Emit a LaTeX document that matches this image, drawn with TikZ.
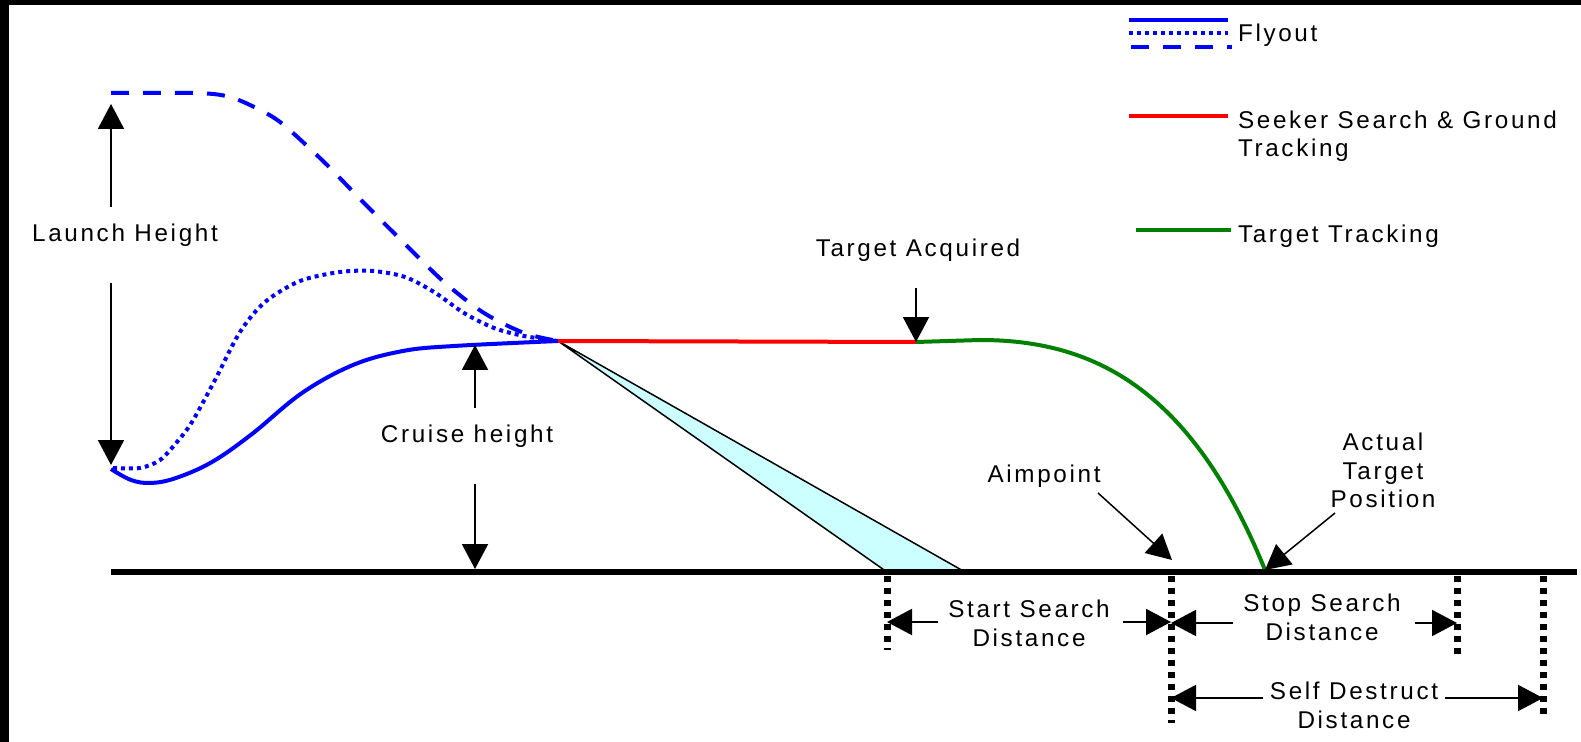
\documentclass[tikz,border=0pt]{standalone}
\usepackage{fontspec}
\setmainfont{Liberation Sans}[LetterSpace=11]
\usetikzlibrary{arrows.meta}
\definecolor{seekcyan}{RGB}{204,255,255}
\definecolor{trackgreen}{RGB}{0,128,0}

\begin{document}
\begin{tikzpicture}[x=0.02cm,y=-0.02cm,line width=0.04cm,
    font=\fontsize{13.8}{16.4}\selectfont,
    lbl/.style={inner sep=0pt,align=center,anchor=base},
    leg/.style={inner sep=0pt,align=left,anchor=base west},
    arr/.style={-{Triangle[length=0.5cm,width=0.52cm]}},
    fly/.style={blue,line width=0.08cm},
    flydot/.style={fly,dash pattern=on 0.08cm off 0.08cm},
    flydash/.style={fly,dash pattern=on 0.36cm off 0.28cm},
    marker/.style={line width=0.14cm,dash pattern=on 0.12cm off 0.12cm}]
    \useasboundingbox (0,0) rectangle (1581,742);
    \fill (0,0) rectangle (1581,5.5);
    \fill (0,0) rectangle (8.5,742);
    \coordinate (L) at (111,469);
    \coordinate (C) at (558,341);
    \coordinate (TA) at (916,342);
    \coordinate (TP) at (1265,570);
    \coordinate (SS) at (887,572);
    \coordinate (SE) at (965,572);
    \coordinate (AP) at (1171,572);
    \coordinate (SP) at (1457,572);
    \coordinate (SD) at (1543,572);
    \fill [seekcyan] (C) -- (SS) -- (SE) -- cycle;
    \draw [line width=0.03cm] (SS) -- (C) -- (SE);
    \draw [fly] plot [smooth,tension=0.6] coordinates {(L) (131,480) (151,483) (176,478) (212,462) (252,434) (302,393) (353,365) (403,351) (454,346) (C)};
    \draw [flydot] plot [smooth,tension=0.5] coordinates {(113,468) (140,468) (160,460) (177,442) (192,422) (215,380) (240,332) (265,302) (300,281) (340,272) (373,271) (405,277) (434,292) (464,313) (494,328) (524,336) (C)};
    \draw [flydash] plot [smooth,tension=0.5] coordinates {(111,93) (195,93) (226,96) (250,105) (280,122) (323,161) (363,202) (403,242) (444,282) (484,313) (524,333) (C)};
    \draw [red,line width=0.08cm] (C) -- (TA);
    \draw [trackgreen,line width=0.08cm] (TA) -- (980,340) .. controls (1090,340) and (1190,385) .. (TP);
    \draw [line width=0.12cm] (111,572) -- (1577,572);
    \draw [marker] (SS) ++(0,4) -- (887,650);
    \draw [marker] (AP) ++(0,4) -- (1171,723);
    \draw [marker] (SP) ++(0,4) -- (1457,655);
    \draw [marker] (SD) ++(0,4) -- (1543,717);
    \node [lbl] (lh) at (125,242) {Launch Height};
    \coordinate (lhA) at (111,207);
    \coordinate (lhB) at (111,283);
    \draw [arr] (lhA) -- (111,104);
    \draw [arr] (lhB) -- (111,465);
    \node [lbl] (ch) at (467,443) {Cruise height};
    \coordinate (chA) at (475,408);
    \coordinate (chB) at (475,484);
    \draw [arr] (chA) -- (475,345);
    \draw [arr] (chB) -- (475,569);
    \node [lbl] (acq) at (918,257) {Target Acquired};
    \draw [arr] (916,288) -- (TA);
    \node [lbl] (aim) at (1044,483) {Aimpoint};
    \draw [arr,line width=0.03cm] (1098,493) -- (1172,560);
    \node [lbl] (atp) at (1383,508) {Actual\\Target\\Position};
    \draw [arr,line width=0.03cm] (1335,513) -- (TP);
    \node [lbl] (ssd) at (1029,646) {Start Search\\Distance};
    \draw [arr] (938,622) -- (887,622);
    \draw [arr] (1123,622) -- (1171,622);
    \node [lbl] (spd) at (1322,640) {Stop Search\\Distance};
    \draw [arr] (1233,623) -- (1171,623);
    \draw [arr] (1415,623) -- (1457,623);
    \node [lbl] (sdd) at (1354,728) {Self Destruct\\Distance};
    \draw [arr] (1263,698) -- (1171,698);
    \draw [arr] (1445,698) -- (1543,698);
    \draw [fly] (1129,20) -- (1228,20);
    \draw [flydot] (1129,33) -- (1228,33);
    \draw [flydash] (1131,47) -- (1232,47);
    \node [leg] (lf) at (1237,42) {Flyout};
    \draw [red,line width=0.08cm] (1129,116) -- (1228,116);
    \node [leg] (ls) at (1237,157) {Seeker Search \& Ground\\Tracking};
    \draw [trackgreen,line width=0.08cm] (1136,230) -- (1231,230);
    \node [leg] (lt) at (1237,243) {Target Tracking};
\end{tikzpicture}
\end{document}
